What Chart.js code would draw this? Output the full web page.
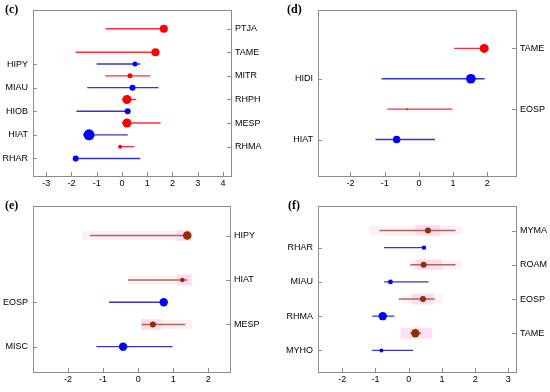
<!DOCTYPE html>
<html>
<head>
<meta charset="utf-8">
<script src="https://cdn.jsdelivr.net/npm/chart.js@4.4.0/dist/chart.umd.min.js"></script>
<style>
body { margin: 0; width: 550px; height: 392px; background: #fff; position: relative; overflow: hidden; }
canvas { position: absolute; }
.tag { position: absolute; font: bold 12px "Liberation Serif", serif; color: #000; }
</style>
</head>
<body>
<canvas id="pc" width="275" height="196" style="left:0;top:0"></canvas>
<canvas id="pd" width="275" height="196" style="left:275px;top:0"></canvas>
<canvas id="pe" width="275" height="196" style="left:0;top:196px"></canvas>
<canvas id="pf" width="275" height="196" style="left:275px;top:196px"></canvas>
<div class="tag" style="left:5px;top:2px">(c)</div>
<div class="tag" style="left:287px;top:2px">(d)</div>
<div class="tag" style="left:5px;top:198px">(e)</div>
<div class="tag" style="left:288px;top:198px">(f)</div>
<script>
// (c)
const cNames  = ['PTJA', 'TAME', 'HIPY', 'MITR', 'MIAU', 'RHPH', 'HIOB', 'MESP', 'HIAT', 'RHMA', 'RHAR'];
const cRows   = [0, 2, 3, 4, 5, 6, 7, 8, 9, 10, 11];
const cSide   = ['R', 'R', 'L', 'R', 'L', 'R', 'L', 'R', 'L', 'R', 'L'];
const cEst    = [1.66, 1.33, 0.52, 0.32, 0.42, 0.20, 0.23, 0.20, -1.30, -0.07, -1.83];
const cLo     = [-0.64, -1.83, -1.00, -0.66, -1.37, -0.01, -1.80, 0.00, -1.54, -0.10, -1.85];
const cHi     = [1.70, 1.35, 0.73, 1.13, 1.45, 0.57, 0.25, 1.53, 0.23, 0.49, 0.73];
const cWeight = [4, 4, 2.5, 2.5, 3, 4.5, 3, 4.5, 5.5, 2, 3];
const cXTicks = [-3, -2, -1, 0, 1, 2, 3, 4];

// (d)
const dNames  = ['TAME', 'HIDI', 'EOSP', 'HIAT'];
const dRows   = [0, 1, 2, 3];
const dSide   = ['R', 'L', 'R', 'L'];
const dEst    = [1.91, 1.52, -0.34, -0.65];
const dLo     = [1.03, -1.09, -0.92, -1.27];
const dHi     = [1.93, 1.92, 0.98, 0.47];
const dWeight = [4.5, 4.8, 1, 3.8];
const dXTicks = [-2, -1, 0, 1, 2];

// (e)
const eNames   = ['HIPY', 'HIAT', 'EOSP', 'MESP', 'MISC'];
const eRows    = [0, 2, 3, 4, 5];
const eSide    = ['R', 'R', 'L', 'R', 'L'];
const eEst     = [1.40, 1.26, 0.73, 0.42, -0.43];
const eLo      = [-1.38, -0.29, -0.83, 0.10, -1.19];
const eHi      = [1.45, 1.40, 0.75, 1.34, 0.98];
const eWeight  = [4.3, 2.3, 4.2, 3, 4.2];
const eShadeLo = [1.10, 1.10, null, 0.08, null];
const eShadeHi = [1.52, 1.52, null, 0.67, null];
const eBandLo  = [-1.60, -0.30, null, 0.08, null];
const eBandHi  = [1.55, 1.52, null, 1.53, null];
const eXTicks  = [-2, -1, 0, 1, 2];

// (f)
const fNames   = ['MYMA', 'RHAR', 'ROAM', 'MIAU', 'EOSP', 'RHMA', 'TAME', 'MYHO'];
const fRows    = [0, 1, 2, 3, 4, 5, 6, 7];
const fSide    = ['R', 'L', 'R', 'L', 'R', 'L', 'R', 'L'];
const fEst     = [0.58, 0.46, 0.45, -0.55, 0.43, -0.78, 0.20, -0.82];
const fLo      = [-0.88, -0.74, 0.05, -0.74, -0.30, -1.10, 0.05, -1.10];
const fHi      = [1.41, 0.48, 1.41, 0.60, 0.78, -0.43, 0.38, 0.13];
const fWeight  = [3, 2.2, 3, 2.4, 3, 4.2, 4.2, 2];
const fShadeLo = [0.20, null, 0.20, null, 0.10, null, -0.25, null];
const fShadeHi = [0.95, null, 1.00, null, 0.75, null, 0.70, null];
const fBandLo  = [-1.20, null, 0.00, null, -0.20, null, null, null];
const fBandHi  = [1.60, null, 1.60, null, 1.00, null, null, null];
const fXTicks  = [-2, -1, 0, 1, 2, 3];

const FONT = { family: '"Liberation Sans", Arial, sans-serif', size: 9 };
const BLUE_LINE = '#3535c8', BLUE_DOT = '#0000ff';

// 外框和向内的刻度线
const framePlugin = {
    id: 'frame',
    beforeDatasetsDraw(chart) {
        const { ctx, chartArea: a, scales } = chart;
        ctx.save();
        ctx.strokeStyle = '#8c8c8c';
        ctx.lineWidth = 1;
        ctx.strokeRect(Math.round(a.left) + 0.5, Math.round(a.top) + 0.5,
            Math.round(a.right - a.left), Math.round(a.bottom - a.top));
        ctx.beginPath();
        scales.x.ticks.forEach(t => {
            const px = Math.round(scales.x.getPixelForValue(t.value)) + 0.5;
            ctx.moveTo(px, a.bottom); ctx.lineTo(px, a.bottom - 4);
        });
        scales.yL.ticks.forEach(t => {
            const py = Math.round(scales.yL.getPixelForValue(t.value)) + 0.5;
            ctx.moveTo(a.left, py); ctx.lineTo(a.left + 4, py);
        });
        scales.yR.ticks.forEach(t => {
            const py = Math.round(scales.yR.getPixelForValue(t.value)) + 0.5;
            ctx.moveTo(a.right, py); ctx.lineTo(a.right - 4, py);
        });
        ctx.stroke();
        ctx.restore();
    }
};

function sideAxis(pos, rows, names, side, want, yMin, yMax, width) {
    const r = rows.filter((v, i) => side[i] === want);
    const n = names.filter((v, i) => side[i] === want);
    return {
        type: 'linear', position: pos, reverse: true, min: yMin, max: yMax,
        afterBuildTicks: axis => { axis.ticks = r.map(v => ({ value: v })); },
        afterFit: axis => { axis.width = width; },
        grid: { display: false, drawTicks: false },
        border: { display: false },
        ticks: {
            autoSkip: false, color: '#000', font: FONT, padding: pos === 'left' ? 5 : 4,
            callback: v => n[r.indexOf(v)]
        }
    };
}

function makePanel(id, p) {
    const datasets = [];
    p.names.forEach((name, i) => {
        const right = p.side[i] === 'R';
        if (p.bandLo && p.bandLo[i] !== null) {
            datasets.push({
                data: [{ x: p.bandLo[i], y: p.rows[i] }, { x: p.bandHi[i], y: p.rows[i] }],
                showLine: true, borderColor: 'rgba(252,222,240,0.45)', borderWidth: 9,
                borderCapStyle: 'butt', pointRadius: 0, order: 4, yAxisID: 'yL'
            });
        }
        if (p.shadeLo && p.shadeLo[i] !== null) {
            datasets.push({
                data: [{ x: p.shadeLo[i], y: p.rows[i] }, { x: p.shadeHi[i], y: p.rows[i] }],
                showLine: true, borderColor: 'rgba(250,205,238,0.6)', borderWidth: 11,
                borderCapStyle: 'butt', pointRadius: 0, order: 3, yAxisID: 'yL'
            });
        }
        datasets.push({
            data: [{ x: p.lo[i], y: p.rows[i] }, { x: p.hi[i], y: p.rows[i] }],
            showLine: true, borderColor: right ? p.rightLine : BLUE_LINE, borderWidth: 1.4,
            pointRadius: 0, order: 2, yAxisID: 'yL'
        });
    });
    datasets.push({
        data: p.est.map((v, i) => ({ x: v, y: p.rows[i] })),
        pointRadius: p.weight,
        pointBackgroundColor: p.side.map(s => s === 'R' ? p.rightDot : BLUE_DOT),
        pointBorderWidth: 0, order: 1, yAxisID: 'yL'
    });

    new Chart(document.getElementById(id).getContext('2d'), {
        type: 'scatter',
        data: { datasets },
        options: {
            responsive: false, animation: false, devicePixelRatio: 1,
            layout: { padding: { top: p.top, left: 0, right: 0, bottom: 0 } },
            plugins: { legend: { display: false }, tooltip: { enabled: false } },
            scales: {
                x: {
                    type: 'linear', min: p.xMin, max: p.xMax,
                    afterBuildTicks: axis => { axis.ticks = p.xTicks.map(v => ({ value: v })); },
                    afterFit: axis => { axis.height = 20; },
                    grid: { display: false, drawTicks: false },
                    border: { display: false },
                    ticks: { color: '#000', font: FONT, padding: 2, autoSkip: false, maxRotation: 0 }
                },
                yL: sideAxis('left', p.rows, p.names, p.side, 'L', p.yMin, p.yMax, p.leftW),
                yR: sideAxis('right', p.rows, p.names, p.side, 'R', p.yMin, p.yMax, p.rightW)
            }
        },
        plugins: [framePlugin]
    });
}

makePanel('pc', {
    names: cNames, rows: cRows, side: cSide, est: cEst, lo: cLo, hi: cHi, weight: cWeight,
    xTicks: cXTicks, xMin: -3.52, xMax: 4.32, yMin: -1.55, yMax: 12.49,
    top: 7, leftW: 33, rightW: 44, rightLine: '#ff2a3a', rightDot: '#ff0000'
});
makePanel('pd', {
    names: dNames, rows: dRows, side: dSide, est: dEst, lo: dLo, hi: dHi, weight: dWeight,
    xTicks: dXTicks, xMin: -2.95, xMax: 2.84, yMin: -1.25, yMax: 4.2,
    top: 7, leftW: 43, rightW: 34, rightLine: '#ff2a3a', rightDot: '#ff0000'
});
makePanel('pe', {
    names: eNames, rows: eRows, side: eSide, est: eEst, lo: eLo, hi: eHi, weight: eWeight,
    shadeLo: eShadeLo, shadeHi: eShadeHi, bandLo: eBandLo, bandHi: eBandHi,
    xTicks: eXTicks, xMin: -3.0, xMax: 2.62, yMin: -1.31, yMax: 6.14,
    top: 10, leftW: 33, rightW: 45, rightLine: '#aa6a4c', rightDot: '#8f2f05'
});
makePanel('pf', {
    names: fNames, rows: fRows, side: fSide, est: fEst, lo: fLo, hi: fHi, weight: fWeight,
    shadeLo: fShadeLo, shadeHi: fShadeHi, bandLo: fBandLo, bandHi: fBandHi,
    xTicks: fXTicks, xMin: -2.73, xMax: 3.23, yMin: -1.41, yMax: 8.26,
    top: 9, leftW: 43, rightW: 34, rightLine: '#aa6a4c', rightDot: '#8f2f05'
});
</script>
</body>
</html>
